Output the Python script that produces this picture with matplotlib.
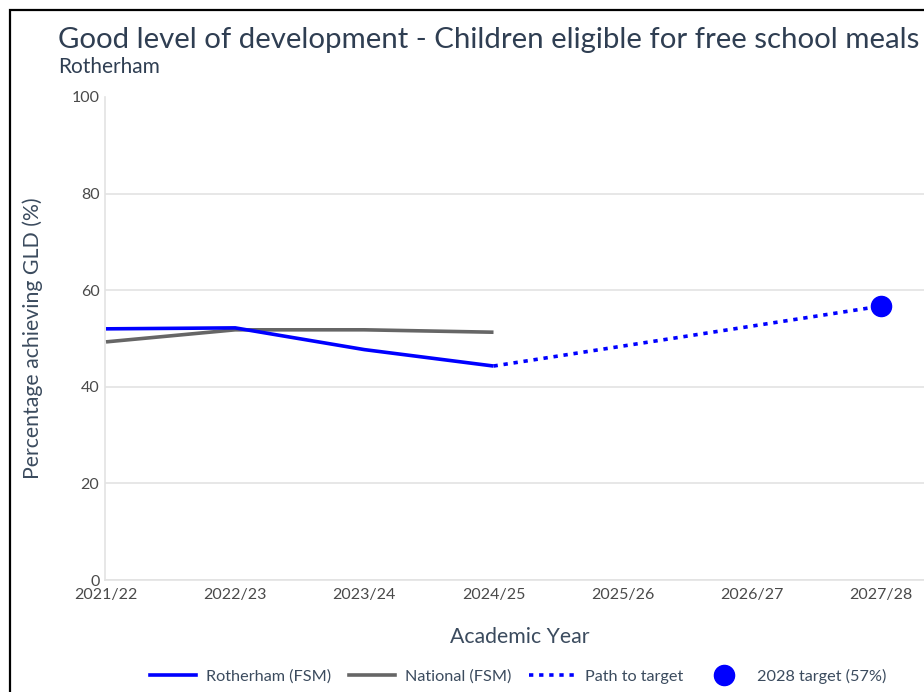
import matplotlib
matplotlib.use("Agg")
import matplotlib.pyplot as plt
from matplotlib.lines import Line2D
from matplotlib.patches import Rectangle

# ---- data ----
years = ["2021/22", "2022/23", "2023/24", "2024/25", "2025/26", "2026/27", "2027/28"]
rotherham_fsm = [52.0, 52.2, 47.7, 44.3]
national_fsm = [49.3, 51.8, 51.8, 51.3]
path_years = ["2024/25", "2027/28"]
path_values = [44.3, 56.7]
target_year = "2027/28"
target_value = 56.7
yticks = [0, 20, 40, 60, 80, 100]

plt.rcParams['font.family'] = ['Lato', 'DejaVu Sans']

W, H = 924, 692
fig = plt.figure(figsize=(W / 100, H / 100), dpi=100)

title_col = "#2f3e52"
tick_col = "#4a4a4a"
blue = "#0000ff"
grey = "#666666"

ax_left, ax_right = 105, 924
ax_top, ax_bot = 97, 580
ax = fig.add_axes([ax_left / W, 1 - ax_bot / H, (ax_right - ax_left) / W, (ax_bot - ax_top) / H])

xi = {y: i for i, y in enumerate(years)}
step = 129.17
x0 = -(106 - ax_left) / step
ax.set_xlim(x0, x0 + (ax_right - ax_left) / step)
ax.set_ylim(0, 100)

ax.plot([xi[y] for y in years[:len(rotherham_fsm)]], rotherham_fsm, color=blue, lw=2.6, solid_capstyle='butt', zorder=4)
ax.plot([xi[y] for y in years[:len(national_fsm)]], national_fsm, color=grey, lw=2.6, solid_capstyle='butt', zorder=3)
ax.plot([xi[y] for y in path_years], path_values, color=blue, lw=2.6, linestyle=(0, (1.2, 1.6)), zorder=4)
ax.plot([xi[target_year]], [target_value], 'o', color=blue, markersize=14.5, zorder=5)

ax.set_yticks(yticks)
ax.set_xticks(range(len(years)))
ax.set_xticklabels(years)
ax.grid(axis='y', color="#e3e3e3", lw=1.2)
ax.get_ygridlines()[-1].set_visible(False)
ax.set_axisbelow(True)
for s in ['top', 'right']:
    ax.spines[s].set_visible(False)
ax.spines['left'].set_color("#e3e3e3")
ax.spines['bottom'].set_color("#e3e3e3")
ax.spines['left'].set_linewidth(1.2)
ax.spines['bottom'].set_linewidth(1.2)
ax.tick_params(axis='both', length=0, labelsize=11.5, labelcolor=tick_col)
ax.tick_params(axis='y', pad=4)
ax.tick_params(axis='x', pad=6)

fig.text(33 / W, 1 - 338 / H, "Percentage achieving GLD (%)", rotation=90, ha='center', va='center',
         fontsize=15.3, color="#3b4b5e")
fig.text(520 / W, 1 - 637 / H, "Academic Year", ha='center', va='center', fontsize=15.3, color="#3b4b5e")

fig.text(58 / W, 1 - 40 / H, "Good level of development - Children eligible for free school meals",
         ha='left', va='center', fontsize=21.2, color=title_col)
fig.text(58 / W, 1 - 67 / H, "Rotherham", ha='left', va='center', fontsize=15, color=title_col)

handles = [
    Line2D([], [], color=blue, lw=2.6),
    Line2D([], [], color=grey, lw=2.6),
    Line2D([], [], color=blue, lw=2.6, linestyle=(0, (1.2, 1.6))),
    Line2D([], [], color=blue, lw=0, marker='o', markersize=14.5),
]
labels = ["Rotherham (FSM)", "National (FSM)", "Path to target", "2028 target (57%)"]
leg = fig.legend(handles, labels, loc='center', bbox_to_anchor=(518 / W, 1 - 676 / H), ncol=4,
                 frameon=False, fontsize=11.7, handlelength=2.85, columnspacing=1.1, handletextpad=0.6,
                 labelcolor="#3b4b5e")

# outer border (cropped frame)
fig.patches.append(Rectangle((10 / W, -0.1), 1.2, 1 - 10 / H + 0.1, transform=fig.transFigure,
                             fill=False, edgecolor='black', lw=1.6))

fig.savefig("out.png", dpi=100)
